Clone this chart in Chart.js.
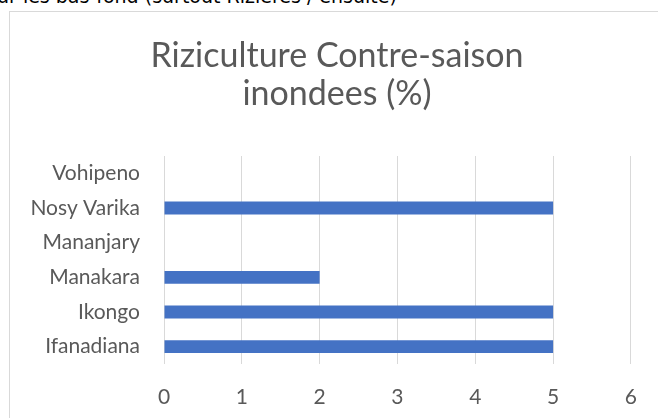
<!DOCTYPE html>
<html>
<head>
<meta charset="utf-8">
<script src="https://cdn.jsdelivr.net/npm/chart.js@4/dist/chart.umd.min.js"></script>
<style>
  body { margin: 0; width: 658px; height: 418px; overflow: hidden; background: #fff; position: relative; }
  #doc { position: absolute; left: -3px; top: -15px; font: 19px "DejaVu Sans"; color: #000; white-space: nowrap; }
  #frame { position: absolute; left: 9px; top: 11px; width: 700px; height: 500px; border: 1px solid #d9d9d9; box-sizing: border-box; background: #fff; }
  canvas { position: absolute; left: 0; top: 0; }
</style>
</head>
<body>
<div id="doc">ur les bas-fond (surtout Rizières / ensuite)</div>
<div id="frame"></div>
<canvas id="chart" width="658" height="418"></canvas>
<script>
// data (Excel order, bottom to top)
const districts = ['Ifanadiana', 'Ikongo', 'Manakara', 'Mananjary', 'Nosy Varika', 'Vohipeno'];
const inondees = [5, 5, 2, 0, 5, 0];
const xTicks = [0, 1, 2, 3, 4, 5, 6];
const chartTitle = ['Riziculture Contre-saison', 'inondees (%)'];

const grey = '#595959';

// title is centred on the Excel frame, not on the canvas, so draw it by hand
const frameTitle = {
    id: 'frameTitle',
    afterDraw(c) {
        const g = c.ctx;
        g.save();
        g.fillStyle = grey;
        g.font = '34px Lato';
        g.textAlign = 'center';
        g.textBaseline = 'alphabetic';
        chartTitle.forEach((line, i) => g.fillText(line, 337, 67 + i * 38));
        g.restore();
    }
};

const ctx = document.getElementById('chart').getContext('2d');
const chart = new Chart(ctx, {
    type: 'bar',
    data: {
        labels: districts,
        datasets: [{
            label: 'inondees',
            data: inondees,
            backgroundColor: '#4472C4',
            barPercentage: 0.37,
            categoryPercentage: 1
        }]
    },
    options: {
        indexAxis: 'y',
        responsive: false,
        animation: false,
        layout: { padding: { left: 0, right: 26, top: 156, bottom: 0 } },
        plugins: {
            legend: { display: false },
            tooltip: { enabled: false },
            title: { display: false }
        },
        scales: {
            x: {
                min: xTicks[0],
                max: xTicks[xTicks.length - 1],
                afterBuildTicks: (scale) => { scale.ticks = xTicks.map(v => ({ value: v })); },
                afterFit: (scale) => { scale.height = 54; },
                grid: { color: '#d9d9d9', drawTicks: false },
                border: { display: false },
                ticks: { color: grey, font: { family: 'Lato', size: 21 }, padding: 21 }
            },
            y: {
                reverse: true,
                afterFit: (scale) => { scale.width = 164; },
                grid: { display: false, drawTicks: false },
                border: { display: false },
                ticks: { color: grey, font: { family: 'Lato', size: 21 }, padding: 24 }
            }
        }
    },
    plugins: [frameTitle]
});
</script>
</body>
</html>
